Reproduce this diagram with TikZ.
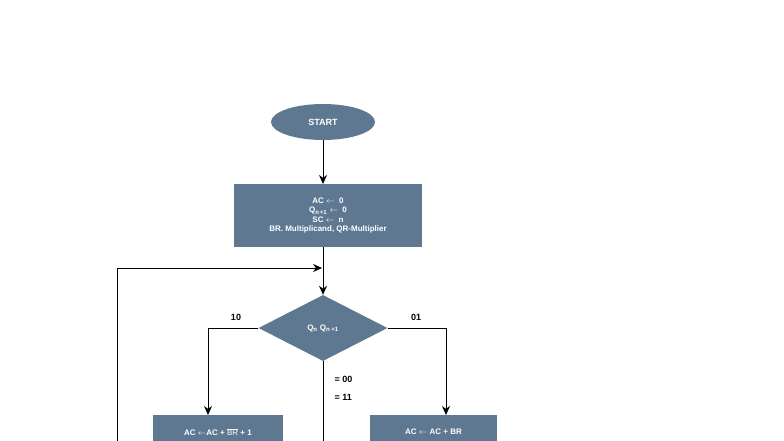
\documentclass[tikz,border=0pt]{standalone}
\usepackage{fontspec}
\setmainfont{Liberation Sans}
\usetikzlibrary{shapes.geometric,arrows.meta}
\definecolor{fc}{HTML}{5F7891}
\begin{document}
\begin{tikzpicture}[x=1pt,y=-1pt,
  fill box/.style={fill=fc,draw=none,text=white,font=\bfseries\fontsize{8}{9.5}\selectfont,align=center,inner sep=0},
  arr/.style={-{Stealth[length=9pt,width=8pt]},line width=0.8pt},
  ln/.style={line width=0.8pt},
  lab/.style={font=\bfseries\fontsize{9}{10}\selectfont}]
\useasboundingbox (0,0) rectangle (784,441);
\clip (0,0) rectangle (784,441);
\node[fill box,ellipse,minimum width=104pt,minimum height=36pt,font=\bfseries\fontsize{9}{10}\selectfont] (start) at (323,122) {START};
\node[fill box,rectangle,minimum width=188pt,minimum height=63pt] (init) at (328,215.5)
 {AC $\leftarrow$\ \ 0\\ Q\textsubscript{n\,+1} $\leftarrow$\ \ 0\\ SC $\leftarrow$\ \ n\\ BR. Multiplicand, QR-Multiplier};
\node[fill box,diamond,aspect=1.95,minimum width=129pt,minimum height=66pt] (dec) at (323,328) {Q\textsubscript{n} Q\textsubscript{n +1}};
\node[fill box,rectangle,minimum width=130pt,minimum height=40pt,anchor=north] (sub) at (218,415) {\raisebox{6pt}{AC $\leftarrow$AC + $\overline{\mathrm{BR}}$ + 1}};
\node[fill box,rectangle,minimum width=127pt,minimum height=40pt,anchor=north] (add) at (433.5,415) {\raisebox{6pt}{AC $\leftarrow$ AC + BR}};
\coordinate (loopb) at (117,441);
\coordinate (loopt) at (117,268);
\coordinate (loopm) at (322,268);
\coordinate (lc) at (208,328);
\coordinate (rc) at (446,328);
\coordinate (bot) at (323,441);
\draw[arr] (start) -- (323,184);
\draw[arr] (323,247) -- (dec.north);
\draw[ln] (loopb) -- (loopt);
\draw[arr] (loopt) -- (loopm);
\draw[ln] (dec.west) -- (lc);
\draw[arr] (lc) -- (sub.north -| lc);
\draw[ln] (dec.east) -- (rc);
\draw[arr] (rc) -- (add.north -| rc);
\draw[ln] (dec.south) -- (bot);
\node[lab] (l10) at (236,317) {10};
\node[lab] (l01) at (416,317) {01};
\node[lab,anchor=west] (l00) at (331,379) {= 00};
\node[lab,anchor=west] (l11) at (331,397) {= 11};
\end{tikzpicture}
\end{document}
